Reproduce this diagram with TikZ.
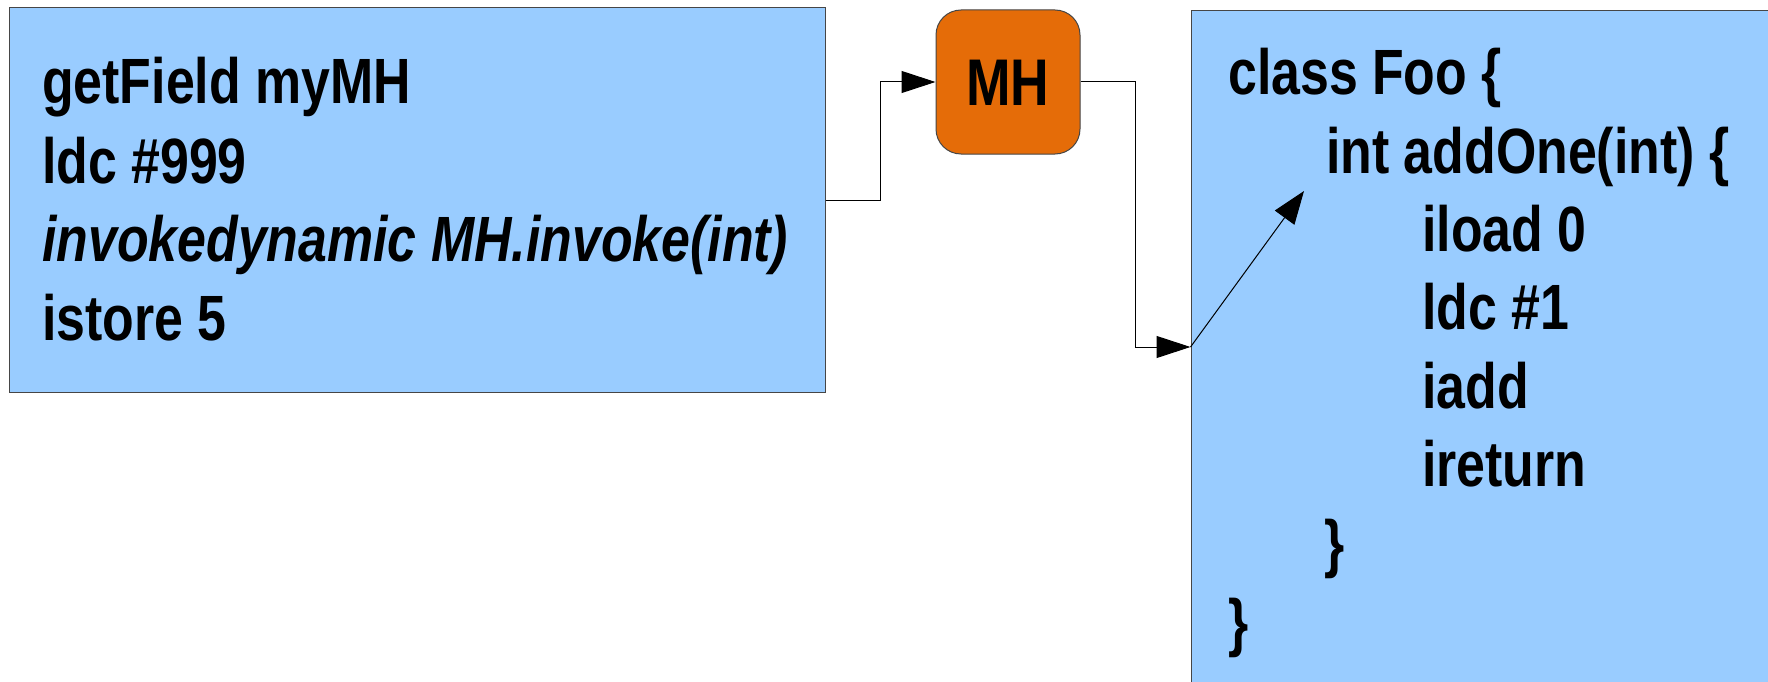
\documentclass[tikz,border=0pt]{standalone}
\usepackage{fontspec}
\setmainfont{Liberation Sans}[FakeStretch=0.81]
\usetikzlibrary{arrows.meta,calc}
\definecolor{boxblue}{RGB}{153,204,255}
\definecolor{mhorange}{RGB}{229,108,8}
\definecolor{edgegray}{RGB}{70,70,70}
\tikzset{
  codebox/.style={draw=edgegray,fill=boxblue,line width=1pt,rectangle,inner sep=0pt},
  mhbox/.style={draw=edgegray,fill=mhorange,line width=1pt,rectangle,rounded corners=25pt,inner sep=0pt,
    minimum width=144pt,minimum height=144pt},
  codeline/.style={anchor=base west,inner sep=0pt,font=\fontsize{64}{78}\selectfont\bfseries},
  conn/.style={draw=black,line width=1pt,-{Triangle[length=34pt,width=22pt]}},
}
\begin{document}
\begin{tikzpicture}[x=1pt,y=-1pt]
\clip (0,0) rectangle (1768,682);
\fill[white] (0,0) rectangle (1768,682);
% boxes
\node[codebox,minimum width=816pt,minimum height=384pt] (L) at (417,200) {};
\node[mhbox] (MH) at (1008,82) {};
\node[anchor=base,inner sep=0pt,font=\fontsize{66}{78}\selectfont\bfseries] (mht) at (1008,106) {MH};
\node[codebox,minimum width=620pt,minimum height=672pt] (R) at (1501,347) {};
% left code
\node[codeline] (l1) at (42,104) {getField myMH};
\node[codeline] (l2) at (42,183) {ldc \#999};
\node[codeline] (l3) at (42,261) {\itshape invokedynamic MH.invoke(int)};
\node[codeline] (l4) at (42,340) {istore 5};
% right code
\node[codeline] (r1) at (1228,95) {class Foo \{};
\node[codeline] (r2) at (1326,173) {int addOne(int) \{};
\node[codeline] (r3) at (1422,251) {iload 0};
\node[codeline] (r4) at (1422,329) {ldc \#1};
\node[codeline] (r5) at (1422,408) {iadd};
\node[codeline] (r6) at (1422,486) {ireturn};
\node[codeline] (r7) at (1324,565) {\}};
\node[codeline] (r8) at (1228,644) {\}};
% connectors
\draw[conn] (L.east) -| ($(L.east)!0.5!(MH.west)$) |- (MH.west);
\draw[conn] (MH.east) -| ($(MH.east)!0.5!(R.west)$) |- (R.west);
\coordinate (tip) at (1304,191);
\draw[conn,-{Triangle[length=33pt,width=24pt]}] (R.west) -- (tip);
\end{tikzpicture}
\end{document}
